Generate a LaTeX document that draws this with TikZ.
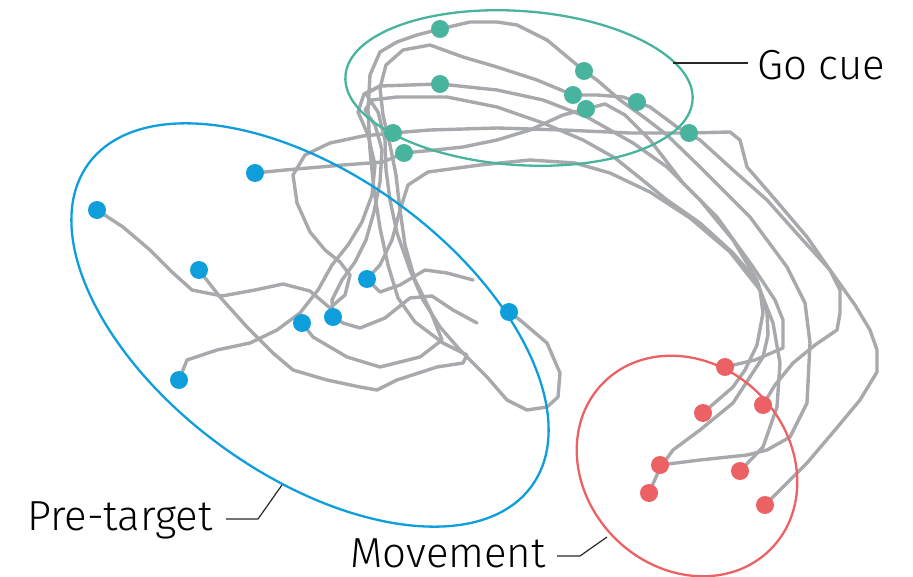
\documentclass[tikz,border=0pt]{standalone}
\usepackage{fontspec}
\setmainfont{Fira Sans Light}
\definecolor{trajgray}{RGB}{167,169,172}
\definecolor{pretblue}{RGB}{14,158,220}
\definecolor{goteal}{RGB}{72,180,158}
\definecolor{movred}{RGB}{236,98,100}
\definecolor{leadgray}{RGB}{40,40,40}
\tikzset{
  traj/.style={draw=trajgray, line width=3.4pt, line join=round, line cap=round},
  region/.style={line width=2.3pt},
  dotmark/.style={circle, inner sep=0pt, minimum size=18pt},
  bluedot/.style={dotmark, fill=pretblue},
  tealdot/.style={dotmark, fill=goteal},
  reddot/.style={dotmark, fill=movred},
  leader/.style={draw=leadgray, line width=1.2pt},
  lab/.style={anchor=base west, inner sep=0pt, text depth=0pt, font=\fontsize{42}{48}\selectfont}
}
\begin{document}
\begin{tikzpicture}[x=1pt, y=-1pt]
\useasboundingbox (0,0) rectangle (913,577);

% ---- trajectories ----
% trial 1
\draw[traj] (97,210) -- (123,227) -- (150,250) -- (172,272) -- (192,290) -- (222,296) -- (255,290) -- (283,284) -- (310,291) -- (330,308) -- (345,295) -- (350,275) -- (340,262) -- (325,250) -- (310,232) -- (297,203) -- (293,175) -- (305,155) -- (330,143) -- (363,136) -- (393,133) -- (430,130) -- (497,128) -- (563,130) -- (630,133) -- (689,133) -- (730,132) -- (740,140) -- (747,167) -- (773,197) -- (807,237) -- (830,270) -- (855,305) -- (870,330) -- (877,350) -- (877,372) -- (860,400) -- (835,430) -- (807,463) -- (785,485) -- (765,505);
% trial 2
\draw[traj] (255,173) -- (285,170) -- (320,167) -- (343,165) -- (383,162) -- (404,153) -- (435,150) -- (463,147) -- (497,140) -- (530,130) -- (563,115) -- (586,109) -- (605,104) -- (625,115) -- (650,140) -- (683,183) -- (717,217) -- (753,267) -- (775,300) -- (783,320) -- (783,348) -- (755,360) -- (725,367);
% trial 3
\draw[traj] (199,270) -- (220,297) -- (247,327) -- (273,353) -- (293,370) -- (327,380) -- (360,387) -- (377,390) -- (397,380) -- (437,367) -- (463,363) -- (467,355) -- (443,343) -- (415,322) -- (398,298) -- (388,265) -- (380,228) -- (374,190) -- (370,150) -- (368,110) -- (370,75) -- (380,52) -- (397,42) -- (417,35) -- (440,29) -- (470,22) -- (497,22) -- (517,25) -- (547,40) -- (577,65) -- (584,71) -- (597,80) -- (620,100) -- (645,118) -- (667,135) -- (700,167) -- (750,217) -- (787,267) -- (805,303) -- (810,343) -- (807,403) -- (790,437) -- (767,450) -- (747,455) -- (700,460) -- (660,465);
% trial 4
\draw[traj] (179,380) -- (187,360) -- (217,350) -- (250,343) -- (277,330) -- (300,313) -- (318,290) -- (332,265) -- (348,245) -- (362,222) -- (372,195) -- (375,165) -- (368,135) -- (358,112) -- (364,94) -- (380,86) -- (410,85) -- (440,84) -- (497,90) -- (543,100) -- (587,117) -- (633,143) -- (667,167) -- (700,200) -- (733,240) -- (757,280) -- (767,313) -- (768,335) -- (763,357) -- (733,403) -- (700,430) -- (673,450) -- (660,468) -- (649,493);
% trial 5
\draw[traj] (302,323) -- (313,337) -- (347,357) -- (380,367) -- (420,357) -- (442,340) -- (430,310) -- (415,280) -- (405,245) -- (400,210) -- (396,175) -- (390,145) -- (383,115) -- (380,88) -- (386,65) -- (403,50) -- (430,45) -- (463,57) -- (497,67) -- (537,80) -- (573,95) -- (597,95) -- (623,97) -- (637,102) -- (650,107) -- (677,127) -- (700,140) -- (733,170) -- (767,200) -- (800,237) -- (830,270) -- (840,290) -- (840,313) -- (837,330) -- (815,345) -- (793,363) -- (775,385) -- (763,405);
% trial 6
\draw[traj] (477,323) -- (453,310) -- (432,296) -- (410,298) -- (385,318) -- (360,328) -- (343,323) -- (333,317) -- (332,300) -- (342,280) -- (355,262) -- (366,240) -- (374,212) -- (380,182) -- (382,150) -- (375,125) -- (365,110) -- (372,100) -- (397,97) -- (447,97) -- (497,107) -- (543,123) -- (583,140) -- (615,158) -- (640,178) -- (667,200) -- (700,223) -- (733,253) -- (750,273) -- (760,290) -- (763,313) -- (757,345) -- (745,370) -- (733,387) -- (703,413);
% trial 7
\draw[traj] (473,280) -- (447,273) -- (425,270) -- (400,285) -- (380,292) -- (367,279) -- (380,265) -- (392,240) -- (400,210) -- (408,185) -- (428,172) -- (480,165) -- (530,160) -- (575,163) -- (610,173) -- (650,192) -- (690,218) -- (730,252) -- (760,290) -- (773,323) -- (780,363) -- (777,407) -- (763,447) -- (740,471);
% trial 8
\draw[traj] (509,312) -- (520,320) -- (547,343) -- (560,373) -- (558,397) -- (547,407) -- (527,410) -- (507,400) -- (487,377) -- (460,350) -- (440,327) -- (423,300) -- (410,270) -- (397,233) -- (390,200) -- (386,170) -- (385,140) -- (378,112) -- (366,94) -- (380,86);

% ---- task-epoch regions ----
\draw[region, draw=pretblue, rotate around={-36:(310,325)}] (310,325) ellipse [x radius=274, y radius=150];
\draw[region, draw=goteal, rotate around={-4:(519,88)}] (519,88) ellipse [x radius=174, y radius=77];
\draw[region, draw=movred, rotate around={-45:(687,466)}] (687,466) ellipse [x radius=118, y radius=102];

% ---- epoch markers ----
\node[bluedot] (b1) at (97,210) {};
\node[bluedot] (b2) at (255,173) {};
\node[bluedot] (b3) at (199,270) {};
\node[bluedot] (b4) at (179,380) {};
\node[bluedot] (b5) at (302,323) {};
\node[bluedot] (b6) at (333,317) {};
\node[bluedot] (b7) at (367,279) {};
\node[bluedot] (b8) at (509,312) {};

\node[tealdot] (t1) at (440,29) {};
\node[tealdot] (t2) at (440,84) {};
\node[tealdot] (t3) at (584,71) {};
\node[tealdot] (t4) at (573,95) {};
\node[tealdot] (t5) at (586,109) {};
\node[tealdot] (t6) at (637,102) {};
\node[tealdot] (t7) at (393,133) {};
\node[tealdot] (t8) at (404,153) {};
\node[tealdot] (t9) at (689,133) {};

\node[reddot] (r1) at (725,367) {};
\node[reddot] (r2) at (703,413) {};
\node[reddot] (r3) at (763,405) {};
\node[reddot] (r4) at (660,465) {};
\node[reddot] (r5) at (740,471) {};
\node[reddot] (r6) at (649,493) {};
\node[reddot] (r7) at (765,505) {};

% ---- labels ----
\node[lab] (golab) at (757,80) {Go cue};
\node[lab] (prelab) at (27,530) {Pre-target};
\node[lab] (movlab) at (350,567) {Movement};

\coordinate (goend) at (673,63);
\coordinate (prebend) at (258,519);
\coordinate (preend) at (282,485);
\coordinate (movbend) at (580,556);
\coordinate (movend) at (607,537);

\draw[leader] (golab.west |- goend) ++(-9,0) -- (goend);
\draw[leader] (prelab.east |- prebend) ++(13,0) -- (prebend) -- (preend);
\draw[leader] (movlab.east |- movbend) ++(11,0) -- (movbend) -- (movend);
\end{tikzpicture}
\end{document}
